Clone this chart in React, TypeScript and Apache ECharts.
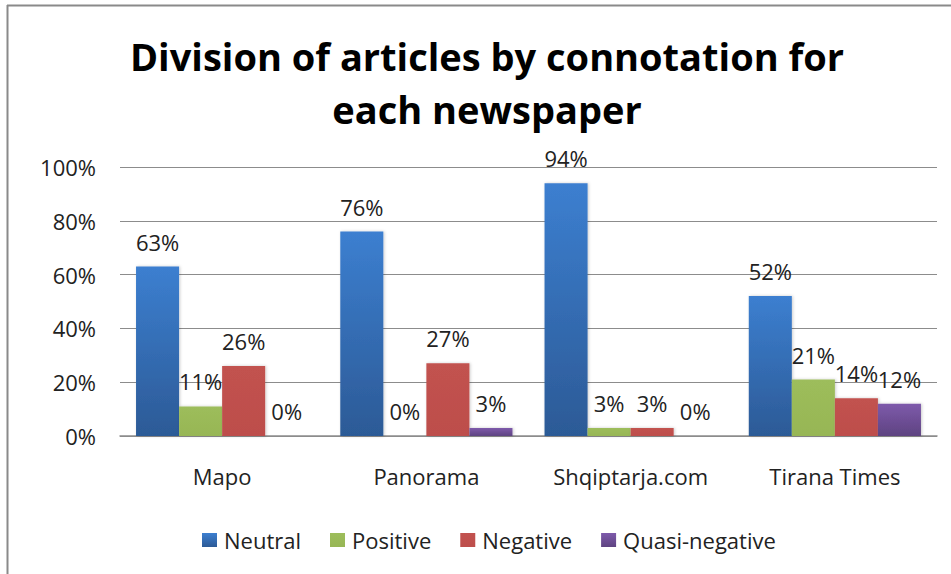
import React, { useEffect, useRef } from "react";
import * as echarts from "echarts";

const titleLines = ["Division of articles by connotation for", "each newspaper"];
const categories = ["Mapo", "Panorama", "Shqiptarja.com", "Tirana Times"];
const seriesNames = ["Neutral", "Positive", "Negative", "Quasi-negative"];
const neutral = [63, 76, 94, 52];
const positive = [11, 0, 3, 21];
const negative = [26, 27, 3, 14];
const quasiNegative = [0, 3, 0, 12];
const yTicks = [0, 20, 40, 60, 80, 100];

const grad = (top: string, bottom: string) =>
  new echarts.graphic.LinearGradient(0, 0, 0, 1, [
    { offset: 0, color: top },
    { offset: 1, color: bottom },
  ]);

export default function App() {
  const ref = useRef<HTMLDivElement>(null);
  useEffect(() => {
    document.body.style.margin = "0";
    if (!ref.current) return;
    const chart = echarts.init(ref.current, null, { renderer: "svg" });
    const font = "'Open Sans', sans-serif";
    const colors = [
      grad("#3c7fd0", "#2c5a96"),
      grad("#9dbd5b", "#97b655"),
      grad("#c2524f", "#bd4e4b"),
      grad("#7e5aab", "#5e4381"),
    ];
    const datasets = [neutral, positive, negative, quasiNegative];
    chart.setOption({
      animation: false,
      backgroundColor: "#ffffff",
      title: {
        text: titleLines.join("\n"),
        left: 482,
        top: 24,
        textAlign: "center",
        textStyle: {
          fontFamily: "'Open Sans', sans-serif",
          fontWeight: "bold",
          fontSize: 38,
          lineHeight: 53,
          color: "#000000",
        },
      },
      legend: {
        data: seriesNames,
        left: 197,
        top: 524,
        itemWidth: 15,
        itemHeight: 14,
        itemGap: 29,
        icon: "rect",
        textStyle: {
          fontFamily: font,
          fontSize: 22,
          color: "#222222",
          padding: [0, 0, 0, 2],
        },
      },
      grid: { left: 120, right: 14, top: 167, bottom: 138 },
      xAxis: {
        type: "category",
        data: categories,
        axisLine: { lineStyle: { color: "#8c8c8c", width: 1.5 } },
        axisTick: { show: false },
        axisLabel: {
          margin: 29,
          fontFamily: font,
          fontSize: 22,
          color: "#222222",
        },
      },
      yAxis: {
        type: "value",
        min: yTicks[0],
        max: yTicks[yTicks.length - 1],
        interval: 20,
        axisLine: { show: false },
        axisTick: { show: false },
        splitLine: { lineStyle: { color: "#8c8c8c", width: 1.2 } },
        axisLabel: {
          margin: 24,
          fontFamily: font,
          fontSize: 22,
          color: "#222222",
          formatter: "{value}%",
        },
      },
      series: seriesNames.map((name, i) => ({
        name,
        type: "bar",
        data: datasets[i],
        barGap: "0%",
        barCategoryGap: "15.7%",
        itemStyle: {
          color: colors[i],
          shadowColor: "rgba(0,0,0,0.2)",
          shadowBlur: 3,
          shadowOffsetX: 1,
          shadowOffsetY: 0,
        },
        label: {
          show: true,
          position: "top",
          distance: 14,
          formatter: "{c}%",
          fontFamily: font,
          fontSize: 22,
          color: "#222222",
        },
      })),
      graphic: [
        {
          type: "line",
          shape: { x1: 7, y1: 5.5, x2: 951, y2: 5.5 },
          style: { stroke: "#8a8a8a", lineWidth: 2 },
          silent: true,
        },
        {
          type: "line",
          shape: { x1: 7.5, y1: 5, x2: 7.5, y2: 574 },
          style: { stroke: "#8a8a8a", lineWidth: 2 },
          silent: true,
        },
      ],
    });
    return () => chart.dispose();
  }, []);
  return <div ref={ref} style={{ width: 951, height: 574 }} />;
}
